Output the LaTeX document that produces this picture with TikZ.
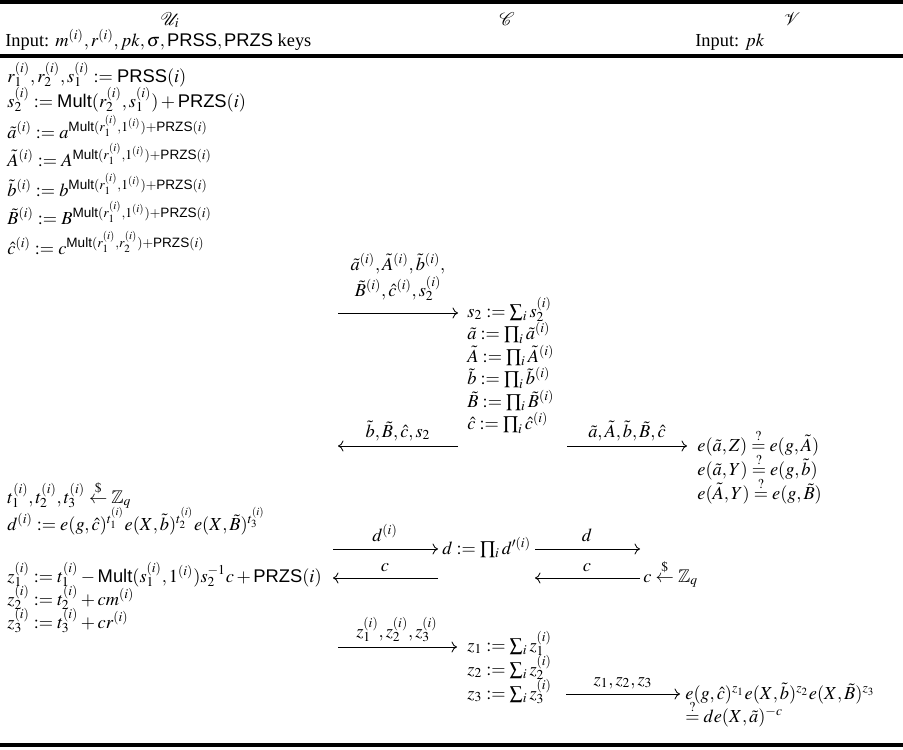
\documentclass[tikz,border=0pt]{standalone}
\usepackage{mathptmx}
\usepackage{amsmath,amssymb}
\usepackage{fontspec}
\setmainfont{Liberation Serif}
\setsansfont{Liberation Sans}
\usetikzlibrary{arrows.meta}
\newcommand{\Sf}[1]{\textsf{#1}}
\newcommand{\Qeq}{\stackrel{?}{=}}
\newcommand{\Rnd}{\stackrel{\$}{\leftarrow}}
\begin{document}
\begin{tikzpicture}[x=0.545pt,y=-0.545pt,
  txt/.style={inner sep=0pt, anchor=base west},
  lab/.style={inner sep=0pt, anchor=base},
  msg/.style={-{Computer Modern Rightarrow[length=3pt,width=6pt]}, line width=0.45pt},
  hrule/.style={line width=2pt}]
\useasboundingbox (0,0) rectangle (903,749);
% rules
\coordinate (t0) at (0,2); \coordinate (t1) at (903,2);
\coordinate (m0) at (0,56); \coordinate (m1) at (903,56);
\coordinate (b0) at (0,745); \coordinate (b1) at (903,745);
\draw[hrule] (t0) -- (t1);
\draw[hrule] (m0) -- (m1);
\draw[hrule] (b0) -- (b1);
% headers
\node[lab] (hU) at (170,25) {$\mathcal{U}_i$\global\fontdimen8\textfont3=0.25pt};
\node[lab] (hC) at (507,25) {$\mathcal{C}$};
\node[lab] (hV) at (792,25) {$\mathcal{V}$};
\node[txt] (inU) at (5,46) {Input: $m^{(i)},r^{(i)},pk,\sigma,\Sf{PRSS},\Sf{PRZS}$ keys};
\node[txt] (inV) at (695,46) {Input: $pk$};
% left column
\node[txt] (l1) at (7,82) {$r_1^{(i)},r_2^{(i)},s_1^{(i)}:=\Sf{PRSS}(i)$};
\node[txt] (l2) at (7,107) {$s_2^{(i)}:=\Sf{Mult}(r_2^{(i)},s_1^{(i)})+\Sf{PRZS}(i)$};
\node[txt] (l3) at (7,138) {$\tilde{a}^{(i)}:=a^{\Sf{Mult}(r_1^{(i)},1^{(i)})+\Sf{PRZS}(i)}$};
\node[txt] (l4) at (7,166) {$\tilde{A}^{(i)}:=A^{\Sf{Mult}(r_1^{(i)},1^{(i)})+\Sf{PRZS}(i)}$};
\node[txt] (l5) at (7,196) {$\tilde{b}^{(i)}:=b^{\Sf{Mult}(r_1^{(i)},1^{(i)})+\Sf{PRZS}(i)}$};
\node[txt] (l6) at (7,224) {$\tilde{B}^{(i)}:=B^{\Sf{Mult}(r_1^{(i)},1^{(i)})+\Sf{PRZS}(i)}$};
\node[txt] (l7) at (7,254) {$\hat{c}^{(i)}:=c^{\Sf{Mult}(r_1^{(i)},r_2^{(i)})+\Sf{PRZS}(i)}$};
\node[txt] (l8) at (7,503) {$t_1^{(i)},t_2^{(i)},t_3^{(i)}\Rnd\mathbb{Z}_q$};
\node[txt] (l9) at (7,530) {$d^{(i)}:=e(g,\hat{c})^{t_1^{(i)}}e(X,\tilde{b})^{t_2^{(i)}}e(X,\tilde{B})^{t_3^{(i)}}$};
\node[txt] (l10) at (7,582) {$z_1^{(i)}:=t_1^{(i)}-\Sf{Mult}(s_1^{(i)},1^{(i)})s_2^{-1}c+\Sf{PRZS}(i)$};
\node[txt] (l11) at (7,605) {$z_2^{(i)}:=t_2^{(i)}+cm^{(i)}$};
\node[txt] (l12) at (7,628) {$z_3^{(i)}:=t_3^{(i)}+cr^{(i)}$};
% middle column
\node[txt] (c1) at (467,317) {$s_2:=\sum_i s_2^{(i)}$};
\node[txt] (c2) at (467,339.5) {$\tilde{a}:=\prod_i \tilde{a}^{(i)}$};
\node[txt] (c3) at (467,362) {$\tilde{A}:=\prod_i \tilde{A}^{(i)}$};
\node[txt] (c4) at (467,384.5) {$\tilde{b}:=\prod_i \tilde{b}^{(i)}$};
\node[txt] (c5) at (467,407) {$\tilde{B}:=\prod_i \tilde{B}^{(i)}$};
\node[txt] (c6) at (467,429.5) {$\hat{c}:=\prod_i \hat{c}^{(i)}$};
\node[txt] (c7) at (442,554) {$d:=\prod_i d'^{(i)}$};
\node[txt] (c8) at (467,651) {$z_1:=\sum_i z_1^{(i)}$};
\node[txt] (c9) at (467,675) {$z_2:=\sum_i z_2^{(i)}$};
\node[txt] (c10) at (467,699) {$z_3:=\sum_i z_3^{(i)}$};
% right column
\node[txt] (r1) at (697,451) {$e(\tilde{a},Z)\Qeq e(g,\tilde{A})$};
\node[txt] (r2) at (697,475) {$e(\tilde{a},Y)\Qeq e(g,\tilde{b})$};
\node[txt] (r3) at (697,499) {$e(\tilde{A},Y)\Qeq e(g,\tilde{B})$};
\node[txt] (r4) at (643,582) {$c\Rnd\mathbb{Z}_q$};
\node[txt] (r5) at (685,699) {$e(g,\hat{c})^{z_1}e(X,\tilde{b})^{z_2}e(X,\tilde{B})^{z_3}$};
\node[txt] (r6) at (685,722) {$\Qeq de(X,\tilde{a})^{-c}$};
% message arrows
\coordinate (a1s) at (338,313); \coordinate (a1e) at (458,313);
\draw[msg] (a1s) -- (a1e);
\node[lab] (m1a) at (398,270) {$\tilde{a}^{(i)},\tilde{A}^{(i)},\tilde{b}^{(i)},$};
\node[lab] (m1b) at (398,296) {$\tilde{B}^{(i)},\hat{c}^{(i)},s_2^{(i)}$};
\coordinate (a2s) at (458,446); \coordinate (a2e) at (338,446);
\draw[msg] (a2s) -- (a2e);
\node[lab] (m2) at (398,437) {$\tilde{b},\tilde{B},\hat{c},s_2$};
\coordinate (a3s) at (567,446); \coordinate (a3e) at (687,446);
\draw[msg] (a3s) -- (a3e);
\node[lab] (m3) at (627,437) {$\tilde{a},\tilde{A},\tilde{b},\tilde{B},\hat{c}$};
\coordinate (a4s) at (333,549); \coordinate (a4e) at (438,549);
\draw[msg] (a4s) -- (a4e);
\node[lab] (m4) at (385,541) {$d^{(i)}$};
\coordinate (a5s) at (535,549); \coordinate (a5e) at (640,549);
\draw[msg] (a5s) -- (a5e);
\node[lab] (m5) at (587,541) {$d$};
\coordinate (a6s) at (438,578); \coordinate (a6e) at (333,578);
\draw[msg] (a6s) -- (a6e);
\node[lab] (m6) at (385,571) {$c$};
\coordinate (a7s) at (640,578); \coordinate (a7e) at (535,578);
\draw[msg] (a7s) -- (a7e);
\node[lab] (m7) at (587,571) {$c$};
\coordinate (a8s) at (338,647); \coordinate (a8e) at (457,647);
\draw[msg] (a8s) -- (a8e);
\node[lab] (m8) at (397,637) {$z_1^{(i)},z_2^{(i)},z_3^{(i)}$};
\coordinate (a9s) at (566,694); \coordinate (a9e) at (680,694);
\draw[msg] (a9s) -- (a9e);
\node[lab] (m9) at (623,685) {$z_1,z_2,z_3$};
\end{tikzpicture}
\end{document}
